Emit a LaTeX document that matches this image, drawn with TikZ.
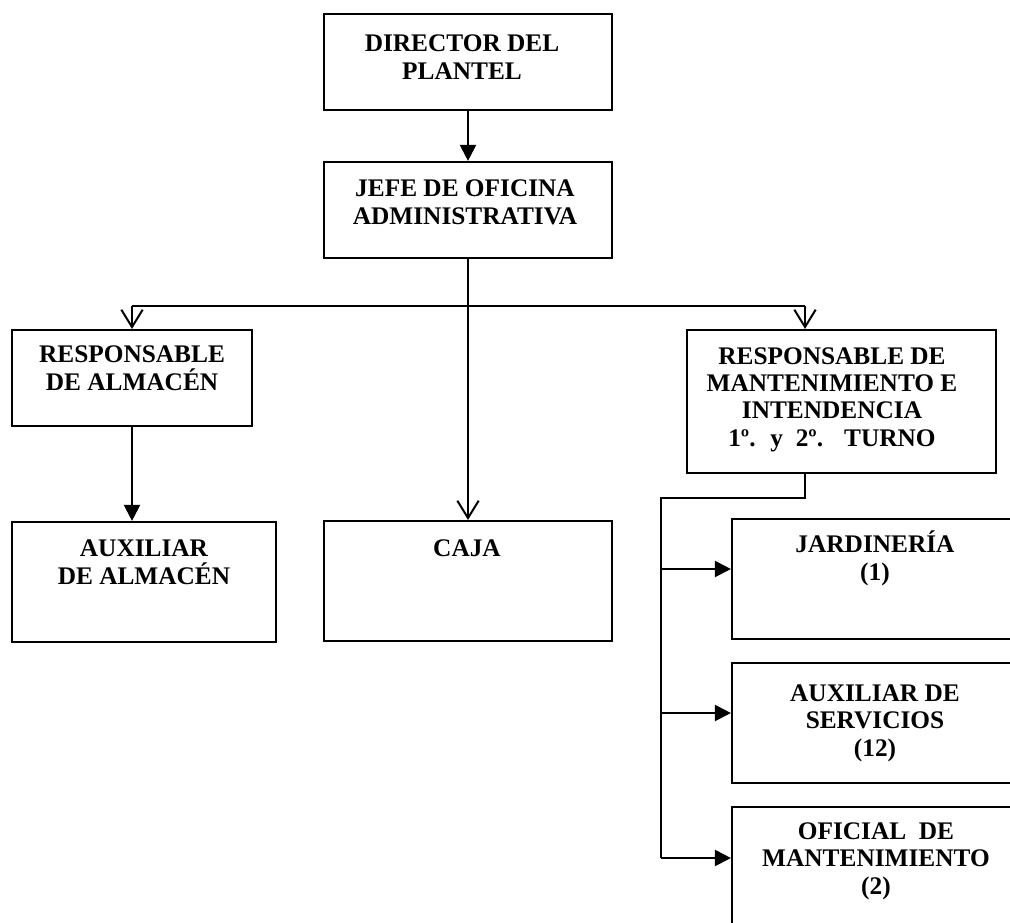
\documentclass[tikz,border=0pt]{standalone}
\usepackage{fontspec}
\setmainfont{Liberation Serif}
\usetikzlibrary{arrows.meta,fit}
\begin{document}
\begin{tikzpicture}[x=0.75pt,y=-0.75pt,
  box/.style={draw, line width=1.6pt, inner sep=0pt},
  txt/.style={font=\bfseries\fontsize{19}{20.3}\selectfont, align=center, inner sep=0pt, anchor=base},
  conn/.style={line width=1.5pt},
  fillarrow/.style={-{Triangle[length=12pt,width=12pt]}},
  openarrow/.style={-{Straight Barb[length=13pt,width=16pt]}}]
\useasboundingbox (0,0) rectangle (1010,922);
\clip (0,0) rectangle (1010,922);
% boxes
\node[box, fit={(324,14) (612,110)}] (dir) {};
\node[box, fit={(324,162) (612,258)}] (jefe) {};
\node[box, fit={(12,330) (252,426)}] (ralm) {};
\node[box, fit={(687,330) (996,473)}] (rmant) {};
\node[box, fit={(12,522) (276,642)}] (aalm) {};
\node[box, fit={(324,521) (612,641)}] (caja) {};
\node[box, fit={(732,519) (1030,639)}] (jar) {};
\node[box, fit={(732,663) (1030,783)}] (aserv) {};
\node[box, fit={(732,807) (1030,960)}] (ofi) {};
% texts (anchor = baseline of last line)
\node[txt] (dir-t) at (462,79) {DIRECTOR DEL\\PLANTEL};
\node[txt] (jefe-t) at (465,224) {JEFE DE OFICINA\\ADMINISTRATIVA};
\node[txt] (ralm-t) at (132,390) {RESPONSABLE\\DE ALMACÉN};
\node[txt] (rmant-t) at (832,446) {RESPONSABLE DE\\MANTENIMIENTO E\\INTENDENCIA\\1º.~ y~ 2º.~~ TURNO};
\node[txt] (aalm-t) at (144,584) {AUXILIAR\\DE ALMACÉN};
\node[txt] (caja-t) at (467,556) {CAJA};
\node[txt] (jar-t) at (875,580) {JARDINERÍA\\(1)};
\node[txt] (aserv-t) at (875,756) {AUXILIAR DE\\SERVICIOS\\(12)};
\node[txt] (ofi-t) at (876,894) {OFICIAL~ DE\\MANTENIMIENTO\\(2)};
% connectors
\coordinate (hl) at (132,306);
\coordinate (hr) at (805,306);
\draw[conn,fillarrow] (dir.south) -- (jefe.north);
\draw[conn] (hl) -- (hr);
\draw[conn,openarrow] (hl) -- (ralm.north);
\draw[conn,openarrow] (hr) -- (hr |- rmant.north);
\draw[conn,openarrow] (jefe.south) -- (caja.north);
\draw[conn,fillarrow] (ralm.south) -- (ralm.south |- aalm.north);
\coordinate (m1) at (805,498);
\coordinate (m2) at (661,498);
\coordinate (b1) at (661,569);
\coordinate (b2) at (661,713);
\coordinate (b3) at (661,858);
\draw[conn] (m1 |- rmant.south) -- (m1) -- (m2) -- (b3);
\draw[conn,fillarrow] (b1) -- (b1 -| jar.west);
\draw[conn,fillarrow] (b2) -- (b2 -| aserv.west);
\draw[conn,fillarrow] (b3) -- (b3 -| ofi.west);
\end{tikzpicture}
\end{document}
